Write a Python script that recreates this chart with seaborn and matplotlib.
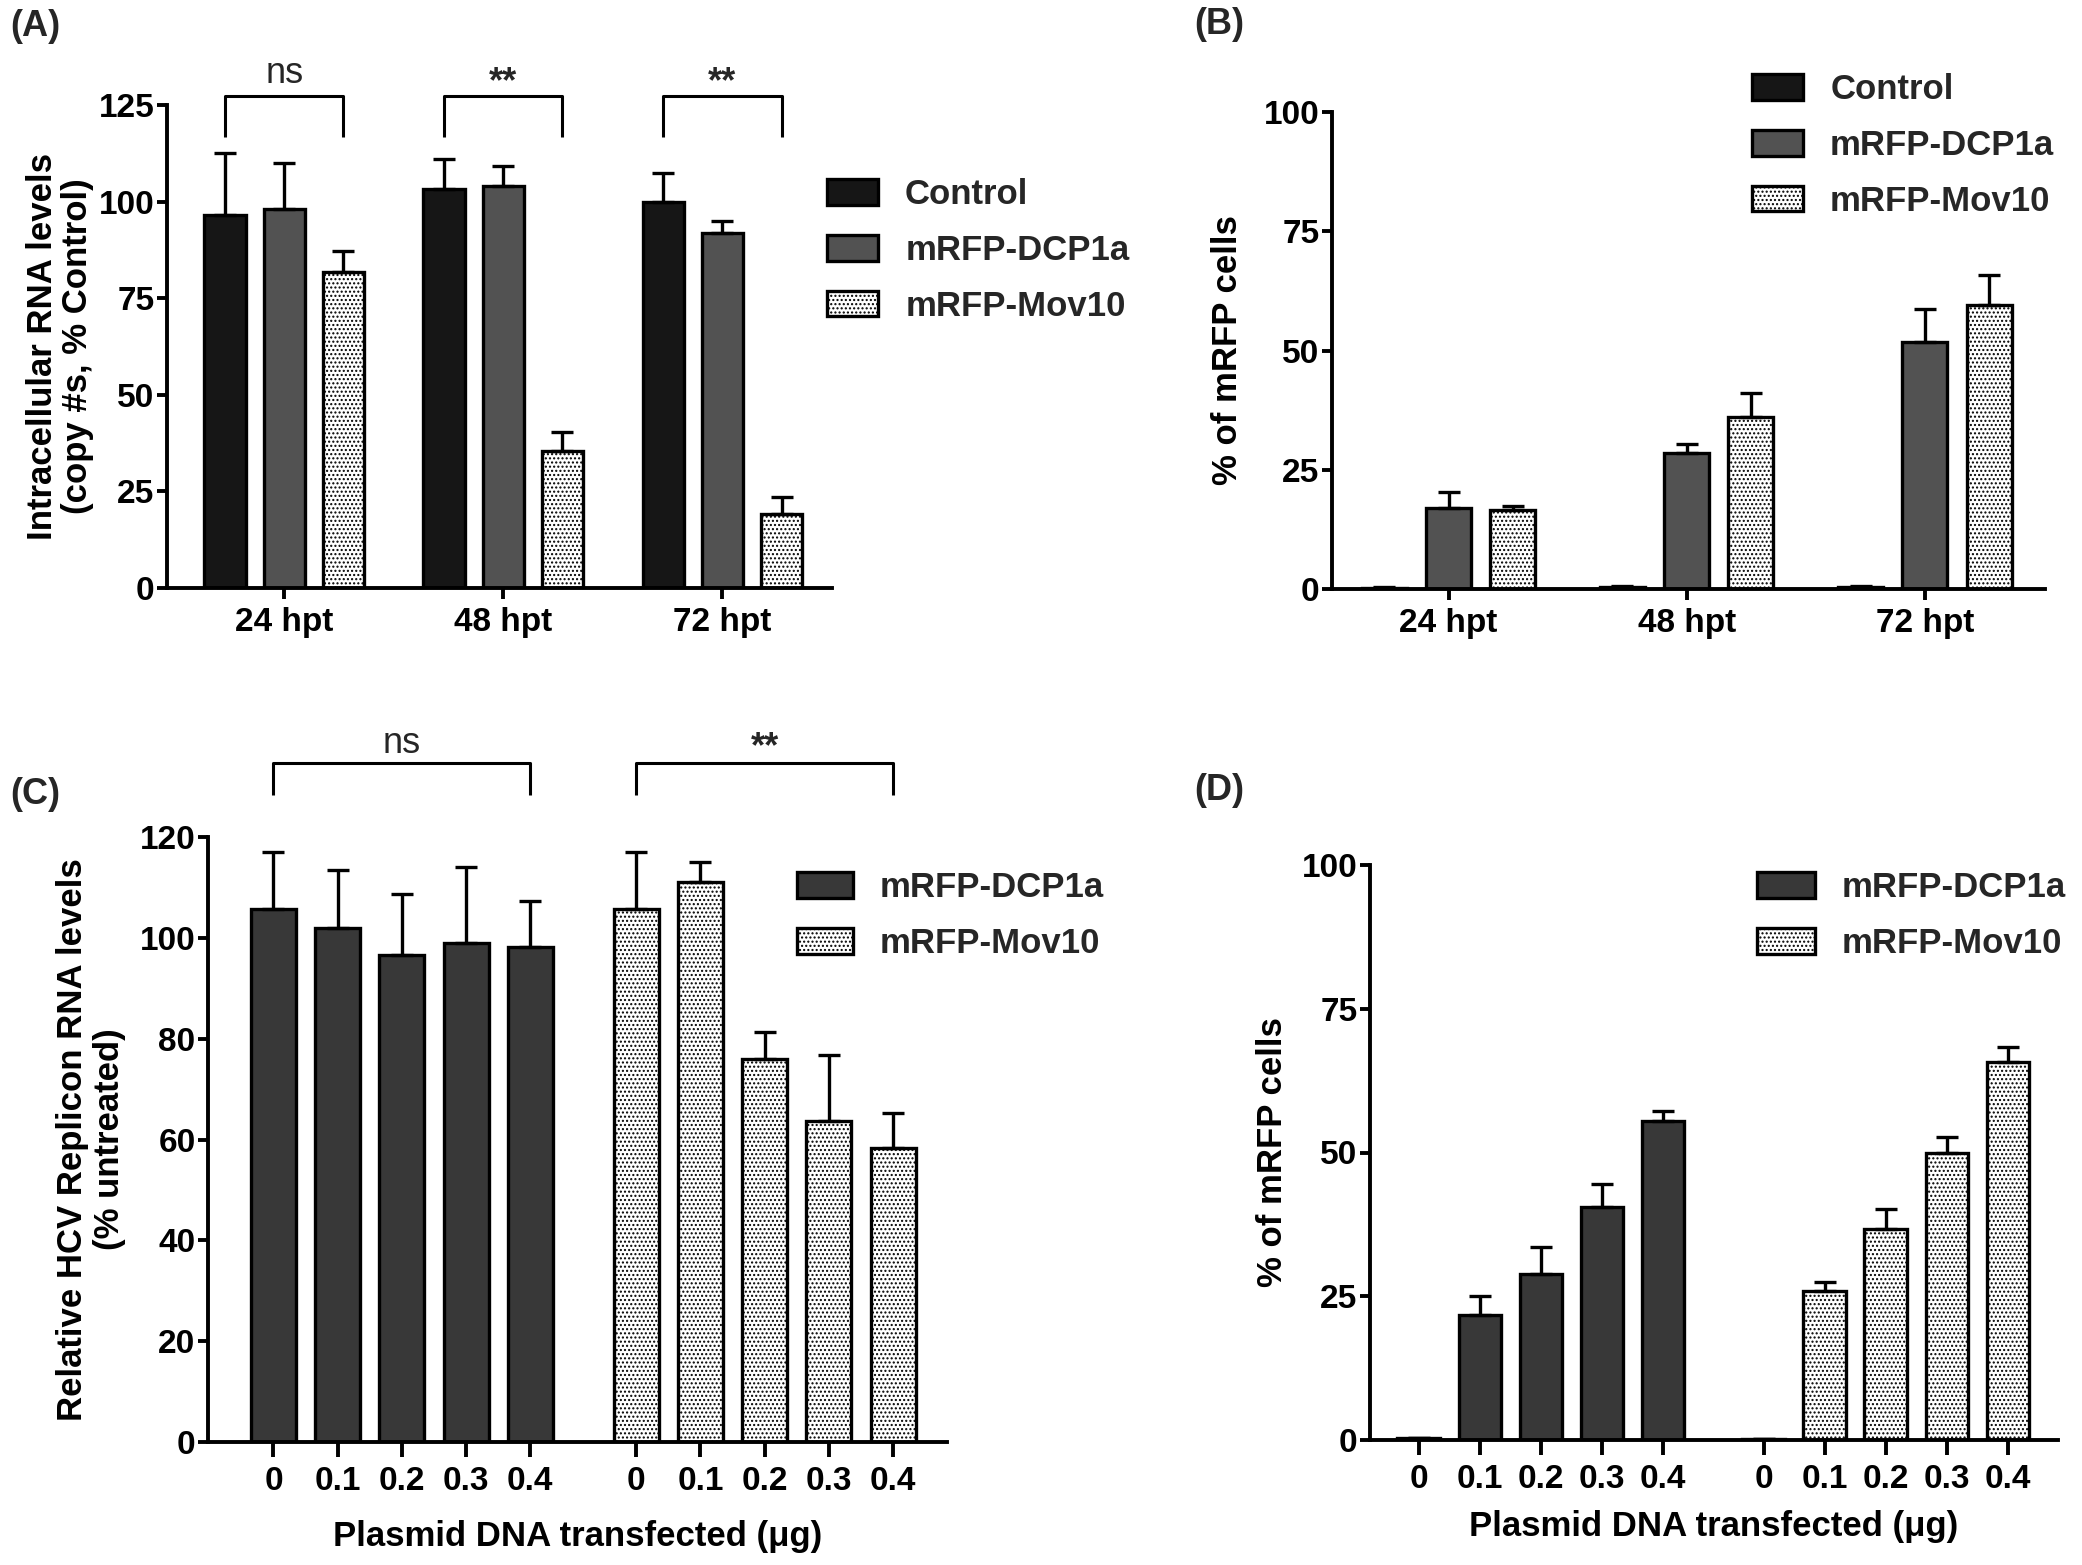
import numpy as np
import pandas as pd
import matplotlib
matplotlib.use("Agg")
import matplotlib.pyplot as plt
import seaborn as sns
from matplotlib import font_manager
from matplotlib.patches import Patch

# ---- values ----
hpt_labels = ["24 hpt", "48 hpt", "72 hpt"]
hpt_groups = ["Control", "mRFP-DCP1a", "mRFP-Mov10"]

# (A) intracellular RNA levels (% control)
a_control = [96.6, 103.2, 100.0]
a_control_sem = [15.9, 7.9, 7.3]
a_dcp1a = [98.2, 104.0, 92.0]
a_dcp1a_sem = [11.8, 5.3, 3.0]
a_mov10 = [81.7, 35.5, 19.2]
a_mov10_sem = [5.6, 5.0, 4.3]

# (B) % of mRFP cells
b_control = [0.3, 0.4, 0.4]
b_control_sem = [0.2, 0.3, 0.3]
b_dcp1a = [16.9, 28.5, 51.7]
b_dcp1a_sem = [3.4, 1.9, 7.0]
b_mov10 = [16.6, 36.0, 59.5]
b_mov10_sem = [0.9, 5.0, 6.3]

dose_labels = ["0", "0.1", "0.2", "0.3", "0.4"]
dose_groups = ["mRFP-DCP1a", "mRFP-Mov10"]

# (C) relative HCV replicon RNA (% untreated)
c_dcp1a = [105.8, 102.0, 96.6, 98.9, 98.1]
c_dcp1a_sem = [11.2, 11.5, 12.0, 15.1, 9.2]
c_mov10 = [105.8, 111.0, 76.0, 63.7, 58.4]
c_mov10_sem = [11.2, 4.0, 5.4, 13.1, 6.8]

# (D) % of mRFP cells
d_dcp1a = [0.3, 21.8, 28.9, 40.6, 55.5]
d_dcp1a_sem = [0.0, 3.3, 4.6, 3.9, 1.8]
d_mov10 = [0.2, 26.0, 36.7, 50.0, 65.8]
d_mov10_sem = [0.0, 1.5, 3.5, 2.7, 2.5]

# ---- style ----
sns.set_theme(style="ticks")
installed = {f.name for f in font_manager.fontManager.ttflist}
HAS_NARROW = "Liberation Sans Narrow" in installed
NARROW = "Liberation Sans Narrow" if HAS_NARROW else "Liberation Sans"
plt.rcParams["font.family"] = [NARROW, "DejaVu Sans"]
plt.rcParams["hatch.linewidth"] = 1.0

TICK_FS = 27 if HAS_NARROW else 24
LEG_FS = 25
LABEL_FS = 25
BAR_LW = 2.4
SPINE_LW = 2.8
HATCH = "...."

W, H = 2082, 1565
fig = plt.figure(figsize=(W / 100, H / 100), dpi=100)
fig.patch.set_facecolor("white")


def px_axes(left, right, top, bottom):
    return fig.add_axes([left / W, 1 - bottom / H, (right - left) / W, (bottom - top) / H])


def style_axes(ax, xtick_len=8):
    sns.despine(ax=ax)
    for s in ["left", "bottom"]:
        ax.spines[s].set_linewidth(SPINE_LW)
        ax.spines[s].set_color("black")
    ax.tick_params(axis="both", colors="black", width=SPINE_LW, direction="out")
    ax.tick_params(axis="y", length=7, pad=2, labelsize=TICK_FS)
    ax.tick_params(axis="x", length=xtick_len, pad=6, labelsize=TICK_FS)
    for lab in ax.get_xticklabels() + ax.get_yticklabels():
        lab.set_fontweight("bold")
        lab.set_family([NARROW, "DejaVu Sans"])
    ax.set_facecolor("white")
    ax.grid(False)


def style_bars(ax, groups, sems):
    bar_conts = list(ax.containers)
    centers = {}
    for cont, grp in zip(bar_conts, groups):
        xs, ys = [], []
        for p in cont:
            p.set_edgecolor("black")
            p.set_linewidth(BAR_LW)
            if grp == "mRFP-Mov10":
                p.set_facecolor("white")
                p.set_hatch(HATCH)
            xs.append(p.get_x() + p.get_width() / 2)
            ys.append(p.get_height())
        ax.errorbar(xs, ys, yerr=[np.zeros(len(ys)), sems[grp]], fmt="none",
                    ecolor="black", elinewidth=2.4, capsize=8, capthick=2.4)
        centers[grp] = xs
    return centers


def bracket(ax, x0, x1, y, drop, text, offset, weight):
    ax.plot([x0, x0, x1, x1], [y - drop, y, y, y - drop], color="black",
            lw=2.2, clip_on=False, solid_capstyle="butt")
    ax.annotate(text, xy=((x0 + x1) / 2, y), xytext=(0, offset),
                textcoords="offset points", ha="center", va="bottom",
                fontsize=26, fontweight=weight, annotation_clip=False)


def add_legend(groups, colors, x, y, hlen):
    handles = []
    for g in groups:
        if g == "mRFP-Mov10":
            handles.append(Patch(facecolor="white", edgecolor="black", hatch=HATCH, linewidth=BAR_LW))
        else:
            handles.append(Patch(facecolor=colors[g], edgecolor="black", linewidth=BAR_LW))
    fig.legend(handles, groups, loc="upper left", bbox_to_anchor=(x / W, 1 - y / H),
               frameon=False, borderpad=0, borderaxespad=0, handlelength=hlen,
               handleheight=0.75, handletextpad=0.78, labelspacing=0.66,
               prop={"family": [NARROW, "DejaVu Sans"], "weight": "bold", "size": LEG_FS})


def ylab(ax, text, xpos, lines_gap=1.05):
    ax.set_ylabel(text, fontsize=LABEL_FS, fontweight="bold", family="Liberation Sans",
                  linespacing=lines_gap, color="black")
    ax.yaxis.label.set_va("center")
    ax.yaxis.set_label_coords(xpos, 0.5)


colors_hpt = {"Control": "#161616", "mRFP-DCP1a": "#525252", "mRFP-Mov10": "white"}
colors_dose = {"mRFP-DCP1a": "#383838", "mRFP-Mov10": "white"}

# ---- (A) ----
df_a = pd.DataFrame({
    "time": hpt_labels * 3,
    "group": np.repeat(hpt_groups, 3),
    "value": a_control + a_dcp1a + a_mov10,
})
ax_a = px_axes(167, 832, 105, 588)
sns.barplot(data=df_a, x="time", y="value", hue="group", order=hpt_labels,
            hue_order=hpt_groups, palette=colors_hpt, width=0.81, gap=0.3,
            errorbar=None, legend=False, saturation=1, ax=ax_a)
cen_a = style_bars(ax_a, hpt_groups, {"Control": a_control_sem, "mRFP-DCP1a": a_dcp1a_sem,
                                      "mRFP-Mov10": a_mov10_sem})
ax_a.set_xlim(-0.535, 2.5)
ax_a.set_ylim(0, 125)
ax_a.set_yticks([0, 25, 50, 75, 100, 125])
ax_a.set_xlabel("")
style_axes(ax_a)
ylab(ax_a, "Intracellular RNA levels\n(copy #s, % Control)", -0.161)
for i, txt in enumerate(["ns", "**", "**"]):
    bracket(ax_a, cen_a["Control"][i], cen_a["mRFP-Mov10"][i], 127.2, 10.5, txt,
            4 if txt == "ns" else -3, "normal" if txt == "ns" else "bold")
add_legend(hpt_groups, colors_hpt, 827, 178, 1.47)

# ---- (B) ----
df_b = pd.DataFrame({
    "time": hpt_labels * 3,
    "group": np.repeat(hpt_groups, 3),
    "value": b_control + b_dcp1a + b_mov10,
})
ax_b = px_axes(1332, 2045, 112, 589)
sns.barplot(data=df_b, x="time", y="value", hue="group", order=hpt_labels,
            hue_order=hpt_groups, palette=colors_hpt, width=0.81, gap=0.3,
            errorbar=None, legend=False, saturation=1, ax=ax_b)
style_bars(ax_b, hpt_groups, {"Control": b_control_sem, "mRFP-DCP1a": b_dcp1a_sem,
                              "mRFP-Mov10": b_mov10_sem})
ax_b.set_xlim(-0.49, 2.505)
ax_b.set_ylim(0, 100)
ax_b.set_yticks([0, 25, 50, 75, 100])
ax_b.set_xlabel("")
style_axes(ax_b)
ylab(ax_b, "% of mRFP cells", -0.146)
add_legend(hpt_groups, colors_hpt, 1752, 73, 1.47)

# ---- (C) and (D) ----
gap_shift = 5.65
pos_dcp = np.arange(len(dose_labels))
pos_mov = np.arange(len(dose_labels)) + gap_shift


def dose_panel(box, vals, sems, ylim, yticks, xlim):
    df = pd.DataFrame({
        "pos": np.concatenate([pos_dcp, pos_mov]),
        "group": np.repeat(dose_groups, len(dose_labels)),
        "value": vals[0] + vals[1],
    })
    ax = px_axes(*box)
    sns.barplot(data=df, x="pos", y="value", hue="group", hue_order=dose_groups,
                palette=colors_dose, native_scale=True, dodge=False, width=0.7,
                errorbar=None, legend=False, saturation=1, ax=ax)
    cen = style_bars(ax, dose_groups, {"mRFP-DCP1a": sems[0], "mRFP-Mov10": sems[1]})
    ax.set_xticks(np.concatenate([pos_dcp, pos_mov]))
    ax.set_xticklabels(dose_labels * 2)
    ax.set_xlim(*xlim)
    ax.set_ylim(*ylim)
    ax.set_yticks(yticks)
    style_axes(ax, xtick_len=11)
    ax.set_xlabel("Plasmid DNA transfected (\u03bcg)", fontsize=25, fontweight="bold",
                  color="black")
    return ax, cen


ax_c, cen_c = dose_panel((208, 947, 837, 1442), (c_dcp1a, c_mov10), (c_dcp1a_sem, c_mov10_sem),
                         (0, 120), [0, 20, 40, 60, 80, 100, 120], (-1.02, 10.49))
ylab(ax_c, "Relative HCV Replicon RNA levels\n(% untreated)", -0.158, 1.15)
ax_c.xaxis.set_label_coords(0.5, -0.157)
ax_c.xaxis.label.set_va("center")
bracket(ax_c, cen_c["mRFP-DCP1a"][0], cen_c["mRFP-DCP1a"][-1], 134.6, 6.3, "ns", 2, "normal")
bracket(ax_c, cen_c["mRFP-Mov10"][0], cen_c["mRFP-Mov10"][-1], 134.6, 6.3, "**", -1, "bold")
add_legend(dose_groups, colors_dose, 797, 871, 1.61)

ax_d, cen_d = dose_panel((1370, 2058, 865, 1440), (d_dcp1a, d_mov10), (d_dcp1a_sem, d_mov10_sem),
                         (0, 100), [0, 25, 50, 75, 100], (-0.8, 10.47))
ylab(ax_d, "% of mRFP cells", -0.142)
ax_d.xaxis.set_label_coords(0.5, -0.151)
ax_d.xaxis.label.set_va("center")
add_legend(dose_groups, colors_dose, 1757, 871, 1.67)

# ---- panel letters ----
for txt, x, y in [("(A)", 10, 27), ("(B)", 1194, 25), ("(C)", 10, 794), ("(D)", 1194, 791)]:
    fig.text(x / W, 1 - y / H, txt, ha="left", va="center", fontsize=26, fontweight="bold",
             family=[NARROW, "DejaVu Sans"])

fig.savefig("out.png", dpi=100, facecolor="white")
